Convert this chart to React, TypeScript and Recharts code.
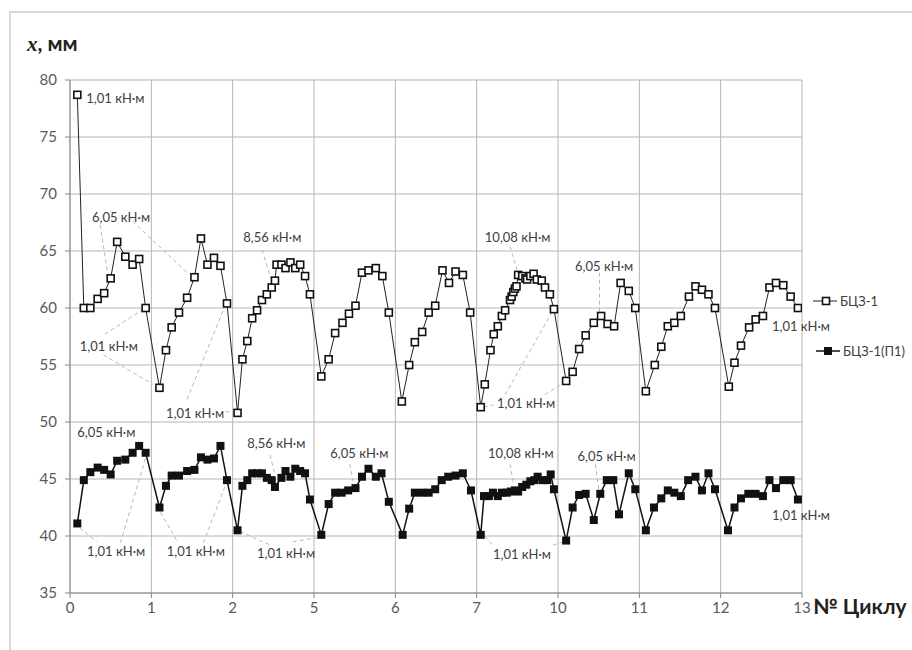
import { LineChart, Line, XAxis, YAxis, CartesianGrid, ReferenceLine, ReferenceDot } from "recharts";

// axis ticks: positions are evenly spaced, labels are the cycle numbers shown in the picture
const xTicks = [0, 1, 2, 3, 4, 5, 6, 7, 8, 9];
const xTickLabels = ["0", "1", "2", "5", "6", "7", "10", "11", "12", "13"];
const yTicks = [35, 40, 45, 50, 55, 60, 65, 70, 75, 80];

// БЦЗ-1
const bczX = [
  0.09, 0.17, 0.25, 0.34, 0.42, 0.5, 0.58, 0.68, 0.77, 0.85, 0.93,
  1.1, 1.18, 1.25, 1.34, 1.44, 1.53, 1.61, 1.69, 1.77, 1.85, 1.93,
  2.06, 2.12, 2.18, 2.24, 2.3, 2.36, 2.42, 2.48, 2.52, 2.54, 2.6, 2.65, 2.71, 2.77, 2.83, 2.89, 2.95,
  3.09, 3.18, 3.26, 3.35, 3.43, 3.51, 3.59, 3.67, 3.76, 3.84, 3.92,
  4.08, 4.17, 4.24, 4.33, 4.41, 4.49, 4.58, 4.66, 4.74, 4.83, 4.92,
  5.05, 5.1, 5.17, 5.21, 5.26, 5.31, 5.35, 5.41, 5.43, 5.45, 5.47, 5.49, 5.51, 5.56, 5.6, 5.62, 5.66, 5.7, 5.74, 5.8, 5.84, 5.9, 5.95,
  6.1, 6.18, 6.26, 6.34, 6.44, 6.53, 6.61, 6.69, 6.77, 6.87, 6.95,
  7.08, 7.19, 7.27, 7.35, 7.43, 7.51, 7.61, 7.69, 7.77, 7.85, 7.93,
  8.1, 8.17, 8.25, 8.35, 8.43, 8.52, 8.6, 8.68, 8.77, 8.86, 8.95,
];
const bczY = [
  78.7, 60.0, 60.0, 60.8, 61.3, 62.6, 65.8, 64.5, 63.8, 64.3, 60.0,
  53.0, 56.3, 58.3, 59.6, 60.9, 62.7, 66.1, 63.8, 64.4, 63.7, 60.4,
  50.8, 55.5, 57.1, 59.1, 59.8, 60.7, 61.2, 61.8, 62.4, 63.8, 63.8, 63.5, 64.0, 63.5, 63.8, 62.8, 61.2,
  54.0, 55.5, 57.8, 58.7, 59.5, 60.2, 63.1, 63.3, 63.5, 62.8, 59.6,
  51.8, 55.0, 57.0, 57.9, 59.6, 60.2, 63.3, 62.2, 63.2, 62.9, 59.6,
  51.3, 53.3, 56.3, 57.7, 58.4, 59.3, 59.8, 60.7, 61.0, 61.4, 61.7, 61.9, 62.9, 62.8, 62.6, 62.5, 62.8, 63.0, 62.5, 62.4, 61.8, 61.2, 59.9,
  53.6, 54.4, 56.4, 57.6, 58.7, 59.3, 58.6, 58.4, 62.2, 61.5, 60.0,
  52.7, 55.0, 56.6, 58.4, 58.7, 59.3, 61.0, 61.9, 61.6, 61.2, 60.0,
  53.1, 55.2, 56.7, 58.3, 59.0, 59.3, 61.8, 62.2, 62.0, 61.0, 60.0,
];

// БЦЗ-1(П1)
const bczP1X = [
  0.09, 0.17, 0.25, 0.34, 0.42, 0.5, 0.58, 0.68, 0.77, 0.85, 0.93,
  1.1, 1.18, 1.25, 1.34, 1.44, 1.53, 1.61, 1.69, 1.77, 1.85, 1.93,
  2.06, 2.12, 2.18, 2.24, 2.3, 2.36, 2.42, 2.48, 2.52, 2.6, 2.65, 2.71, 2.77, 2.83, 2.89, 2.95,
  3.09, 3.18, 3.26, 3.34, 3.42, 3.51, 3.59, 3.67, 3.76, 3.83, 3.92,
  4.09, 4.17, 4.24, 4.33, 4.41, 4.49, 4.57, 4.65, 4.74, 4.83, 4.93,
  5.05, 5.09, 5.15, 5.2, 5.26, 5.31, 5.37, 5.42, 5.47, 5.51, 5.56, 5.61, 5.66, 5.71, 5.75, 5.81, 5.87, 5.91, 5.95,
  6.1, 6.18, 6.26, 6.34, 6.44, 6.52, 6.6, 6.68, 6.75, 6.87, 6.95,
  7.08, 7.18, 7.27, 7.35, 7.43, 7.51, 7.6, 7.69, 7.77, 7.85, 7.93,
  8.09, 8.17, 8.25, 8.34, 8.43, 8.52, 8.6, 8.68, 8.77, 8.86, 8.95,
];
const bczP1Y = [
  41.1, 44.9, 45.6, 46.0, 45.8, 45.4, 46.6, 46.7, 47.3, 47.9, 47.3,
  42.5, 44.4, 45.3, 45.3, 45.7, 45.8, 46.9, 46.7, 46.8, 47.9, 44.9,
  40.5, 44.4, 44.9, 45.5, 45.5, 45.5, 45.1, 44.9, 44.3, 45.1, 45.7, 45.2, 45.9, 45.7, 45.5, 43.2,
  40.1, 42.8, 43.8, 43.8, 44.0, 44.2, 45.2, 45.9, 45.2, 45.5, 43.0,
  40.1, 42.4, 43.8, 43.8, 43.8, 44.1, 44.9, 45.2, 45.3, 45.5, 44.0,
  40.1, 43.5, 43.5, 43.8, 43.5, 43.8, 43.8, 43.9, 44.0, 43.9, 44.3, 44.5, 44.8, 44.9, 45.2, 44.9, 44.9, 45.4, 44.1,
  39.6, 42.5, 43.6, 43.7, 41.4, 43.7, 44.9, 44.9, 41.9, 45.5, 44.1,
  40.5, 42.5, 43.3, 44.0, 43.8, 43.5, 44.9, 45.2, 44.0, 45.5, 44.1,
  40.5, 42.5, 43.3, 43.7, 43.7, 43.5, 44.9, 44.2, 44.9, 44.9, 43.2,
];

// moment notes (text start, in axis units)
const noteText = [
  "1,01 кН·м", "6,05 кН·м", "1,01 кН·м", "1,01 кН·м", "8,56 кН·м", "10,08 кН·м", "6,05 кН·м", "1,01 кН·м", "1,01 кН·м",
  "6,05 кН·м", "1,01 кН·м", "1,01 кН·м", "1,01 кН·м", "8,56 кН·м", "6,05 кН·м", "10,08 кН·м", "1,01 кН·м", "6,05 кН·м", "1,01 кН·м",
];
const noteX = [0.2, 0.27, 0.12, 1.18, 2.13, 5.1, 6.21, 5.25, 8.63, 0.09, 0.21, 1.19, 2.3, 2.18, 3.2, 5.14, 5.2, 6.24, 8.63];
const noteY = [78.4, 68.0, 56.7, 50.8, 66.2, 66.2, 63.7, 51.7, 58.4, 49.1, 38.7, 38.7, 38.5, 48.2, 47.3, 47.3, 38.4, 47.0, 41.8];

// dashed leaders from notes to points: x1, y1, x2, y2
const leaders = [
  [0.37, 67.3, 0.46, 63.2], [0.77, 67.6, 1.44, 63.1],
  [0.43, 57.7, 0.9, 59.9], [0.41, 55.9, 1.02, 53.3],
  [1.44, 52.0, 1.89, 59.9], [1.91, 50.9, 2.0, 50.9],
  [2.36, 65.1, 2.47, 62.6],
  [5.41, 65.4, 5.51, 63.0],
  [6.51, 63.1, 6.51, 59.6],
  [5.09, 51.3, 5.21, 51.5], [5.35, 52.4, 5.94, 59.8], [5.84, 52.4, 6.06, 53.4],
  [0.12, 40.7, 0.33, 39.5], [0.62, 39.4, 0.94, 47.1],
  [1.07, 42.6, 1.32, 39.5], [1.64, 39.4, 1.93, 44.8],
  [2.09, 40.4, 2.46, 39.2], [2.74, 39.5, 3.08, 39.9],
  [2.46, 47.1, 2.52, 45.4],
  [3.44, 46.3, 3.48, 44.8],
  [5.41, 46.3, 5.45, 44.7],
  [5.1, 40.0, 5.21, 39.1], [5.94, 39.2, 6.07, 39.5],
  [6.46, 46.3, 6.5, 44.1],
];

const bczData = bczX.map((x, i) => ({ x, y: bczY[i] }));
const bczP1Data = bczP1X.map((x, i) => ({ x, y: bczP1Y[i] }));

const textColor = "#404040";
const font = "Lato, 'Open Sans', sans-serif";

const OpenSquare = (p: any) => {
  const { cx, cy, index } = p;
  if (cx == null || cy == null) return <g key={`o${index}`} />;
  return <rect key={`o${index}`} x={cx - 3.5} y={cy - 3.5} width={7} height={7} fill="#fff" stroke="#111" strokeWidth={1.6} />;
};

const FilledSquare = (p: any) => {
  const { cx, cy, index } = p;
  if (cx == null || cy == null) return <g key={`f${index}`} />;
  return <rect key={`f${index}`} x={cx - 4} y={cy - 4} width={8} height={8} fill="#111" />;
};

export default function App() {
  return (
    <div style={{ position: "absolute", left: 0, top: 0, width: 912, height: 650, background: "#fff", fontFamily: font }}>
      <div style={{ position: "absolute", left: 9, top: 11, right: 0, bottom: 0, borderLeft: "2px solid #dadada", borderTop: "2px solid #dadada" }} />
      <LineChart width={912} height={650} margin={{ top: 80, right: 110, bottom: 27, left: 0 }}>
        <CartesianGrid stroke="#b5b5b5" strokeWidth={1} />
        <XAxis
          type="number"
          dataKey="x"
          domain={[0, 9]}
          ticks={xTicks}
          tickFormatter={(v: number) => xTickLabels[v]}
          allowDataOverflow
          height={30}
          tickSize={5}
          tickMargin={4}
          axisLine={{ stroke: "#868686" }}
          tickLine={{ stroke: "#868686" }}
          tick={{ fontFamily: font, fontSize: 15, fill: "#595959" }}
        />
        <YAxis
          type="number"
          domain={[35, 80]}
          ticks={yTicks}
          width={70}
          tickSize={5}
          tickMargin={8}
          axisLine={{ stroke: "#868686" }}
          tickLine={{ stroke: "#868686" }}
          tick={{ fontFamily: font, fontSize: 15, fill: "#595959" }}
        />
        {leaders.map((l, i) => (
          <ReferenceLine
            key={`l${i}`}
            segment={[{ x: l[0], y: l[1] }, { x: l[2], y: l[3] }]}
            stroke="#b8b8b8"
            strokeDasharray="4 3"
            strokeWidth={1}
          />
        ))}
        <Line
          data={bczData}
          dataKey="y"
          type="linear"
          stroke="#222"
          strokeWidth={1}
          dot={OpenSquare}
          activeDot={false}
          isAnimationActive={false}
        />
        <Line
          data={bczP1Data}
          dataKey="y"
          type="linear"
          stroke="#111"
          strokeWidth={1.5}
          dot={FilledSquare}
          activeDot={false}
          isAnimationActive={false}
        />
        {noteText.map((t, i) => (
          <ReferenceDot
            key={`n${i}`}
            x={noteX[i]}
            y={noteY[i]}
            r={0}
            shape={(p: any) => (
              <text x={p.cx} y={p.cy} dominantBaseline="central" fontFamily={font} fontSize={13} fill={textColor}>
                {t}
              </text>
            )}
          />
        ))}
      </LineChart>

      <div style={{ position: "absolute", left: 27, top: 30, fontWeight: 700, fontSize: 21, color: "#222", whiteSpace: "nowrap" }}>
        <span style={{ fontFamily: "'Liberation Serif', serif", fontStyle: "italic" }}>x</span>
        <span>, мм</span>
      </div>
      <div style={{ position: "absolute", left: 813, top: 593, fontWeight: 700, fontSize: 21, color: "#222", whiteSpace: "nowrap" }}>
        № Циклу
      </div>

      <div style={{ position: "absolute", left: 812, top: 291, fontSize: 13, color: textColor, lineHeight: "20px" }}>
        <div style={{ display: "flex", alignItems: "center", height: 20 }}>
          <svg width={26} height={20}>
            <line x1={1} y1={10} x2={25} y2={10} stroke="#222" strokeWidth={1} />
            <rect x={10.5} y={6.5} width={7} height={7} fill="#fff" stroke="#111" strokeWidth={1.6} />
          </svg>
          <span style={{ marginLeft: 2 }}>БЦЗ-1</span>
        </div>
        <div style={{ display: "flex", alignItems: "center", height: 20, marginTop: 30, marginLeft: 3 }}>
          <svg width={26} height={20}>
            <line x1={1} y1={10} x2={25} y2={10} stroke="#111" strokeWidth={1.5} />
            <rect x={9} y={6} width={8} height={8} fill="#111" />
          </svg>
          <span style={{ marginLeft: 2 }}>БЦЗ-1(П1)</span>
        </div>
      </div>
    </div>
  );
}
